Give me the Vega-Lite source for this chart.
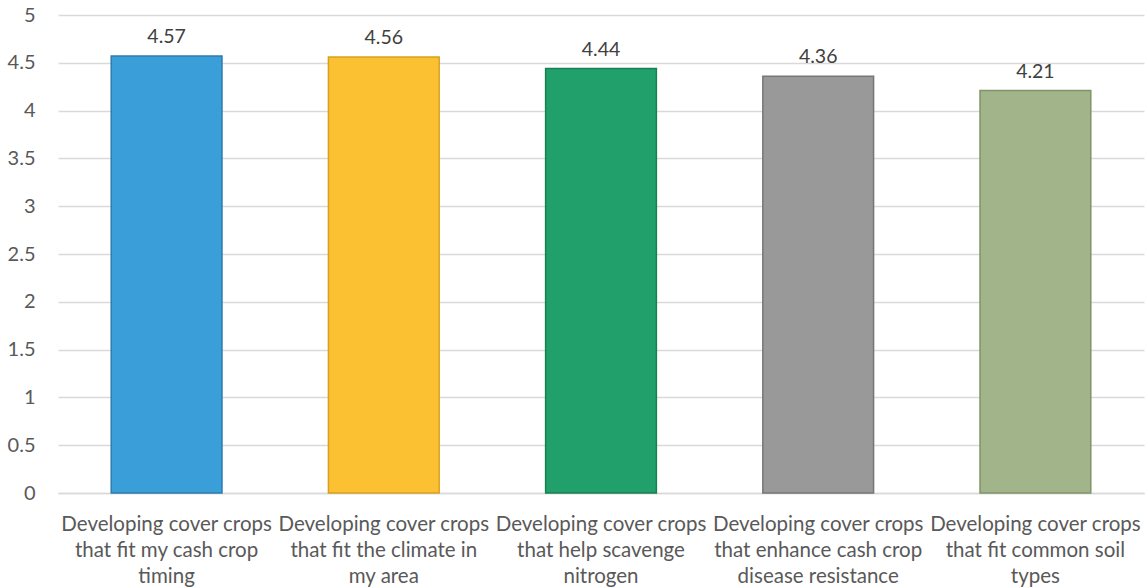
{
  "$schema": "https://vega.github.io/schema/vega-lite/v6.json",
  "autosize": {"type": "none"},
  "padding": {"left": 58, "top": 15, "right": 2, "bottom": 95},
  "width": 1086,
  "height": 478,
  "background": "white",
  "config": {"view": {"stroke": null}},
  "data": {"values": [
    {"category": "Developing cover crops that fit my cash crop timing", "score": 4.57},
    {"category": "Developing cover crops that fit the climate in my area", "score": 4.56},
    {"category": "Developing cover crops that help scavenge nitrogen", "score": 4.44},
    {"category": "Developing cover crops that enhance cash crop disease resistance", "score": 4.36},
    {"category": "Developing cover crops that fit common soil types", "score": 4.21}
  ]},
  "encoding": {
    "x": {
      "field": "category", "type": "nominal", "sort": null,
      "scale": {"paddingInner": 0.49, "paddingOuter": 0.245},
      "axis": {
        "title": null, "labelAngle": 0, "ticks": false, "domain": true,
        "domainColor": "#D9D9D9", "domainWidth": 1.5,
        "labelFont": "Lato", "labelFontSize": 20.5, "labelColor": "#595959",
        "labelPadding": 21, "labelLineHeight": 26, "labelLimit": 300,
        "labelExpr": "datum.index == 0 ? ['Developing cover crops', 'that fit my cash crop', 'timing'] : datum.index == 0.25 ? ['Developing cover crops', 'that fit the climate in', 'my area'] : datum.index == 0.5 ? ['Developing cover crops', 'that help scavenge', 'nitrogen'] : datum.index == 0.75 ? ['Developing cover crops', 'that enhance cash crop', 'disease resistance'] : ['Developing cover crops', 'that fit common soil', 'types']"
      }
    },
    "y": {
      "field": "score", "type": "quantitative",
      "scale": {"domain": [0, 5], "nice": false},
      "axis": {
        "title": null, "values": [0, 0.5, 1, 1.5, 2, 2.5, 3, 3.5, 4, 4.5, 5],
        "format": "~g",
        "domain": false, "ticks": false, "grid": true, "gridColor": "#D9D9D9", "gridWidth": 1.5,
        "labelFont": "Lato", "labelFontSize": 20, "labelColor": "#595959",
        "labelPadding": 23
      }
    }
  },
  "layer": [
    {
      "mark": {"type": "bar", "strokeWidth": 1.5},
      "encoding": {
        "color": {
          "field": "category", "type": "nominal", "legend": null,
          "scale": {
            "domain": [
              "Developing cover crops that fit my cash crop timing",
              "Developing cover crops that fit the climate in my area",
              "Developing cover crops that help scavenge nitrogen",
              "Developing cover crops that enhance cash crop disease resistance",
              "Developing cover crops that fit common soil types"
            ],
            "range": ["#3A9FD9", "#FBC132", "#22A06B", "#999999", "#A2B48A"]
          }
        },
        "stroke": {
          "field": "category", "type": "nominal", "legend": null,
          "scale": {
            "domain": [
              "Developing cover crops that fit my cash crop timing",
              "Developing cover crops that fit the climate in my area",
              "Developing cover crops that help scavenge nitrogen",
              "Developing cover crops that enhance cash crop disease resistance",
              "Developing cover crops that fit common soil types"
            ],
            "range": ["#2C7DB0", "#D9A020", "#17804F", "#777777", "#819468"]
          }
        }
      }
    },
    {
      "mark": {"type": "text", "dy": -9, "font": "Lato", "fontSize": 19.5, "color": "#404040", "baseline": "bottom"},
      "encoding": {
        "text": {"field": "score", "type": "quantitative", "format": ".2f"}
      }
    }
  ]
}
